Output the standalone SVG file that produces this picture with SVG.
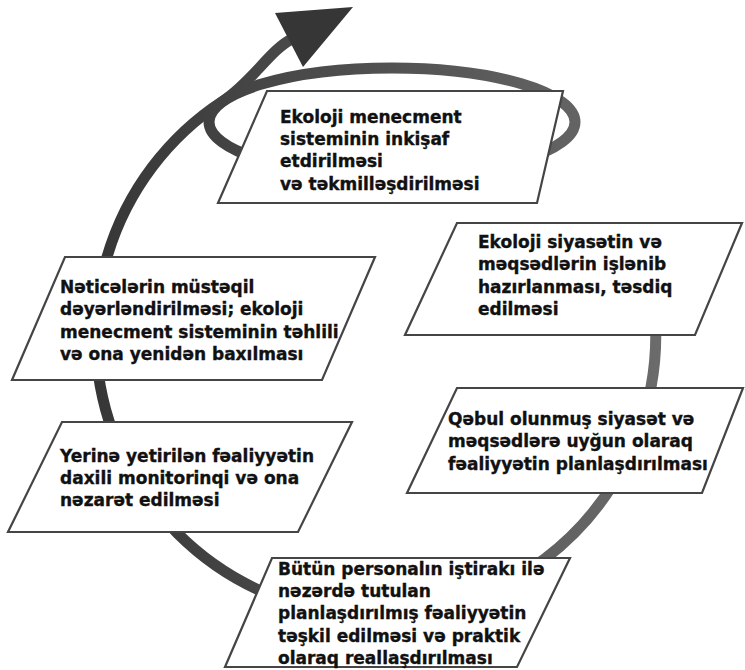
<svg xmlns="http://www.w3.org/2000/svg" width="745" height="670" viewBox="0 0 745 670">
<defs>
<linearGradient id="ringGrad" gradientUnits="userSpaceOnUse" x1="90" y1="0" x2="670" y2="0">
<stop offset="0" stop-color="#363636"/>
<stop offset="1" stop-color="#6c6c6c"/>
</linearGradient>
<style>
.ring{fill:none;stroke:url(#ringGrad);stroke-width:11;stroke-linecap:butt}
.box{fill:#ffffff;stroke:#454545;stroke-width:2.2;stroke-linejoin:miter}
.lbl{font-family:"DejaVu Sans","Liberation Sans",sans-serif;font-weight:bold;font-size:17px;fill:#111111;stroke:#111111;stroke-width:0.35}
</style>
</defs>
<rect width="745" height="670" fill="#ffffff"/>
<g id="connectors">
<path class="ring" d="M 652 290 A 280 280 0 1 1 223 101 C 252 82 271 49 292 39"/>
<polygon points="275,13 353,7 303,67" fill="#363636"/>
<ellipse class="ring" cx="392" cy="122" rx="183" ry="54" stroke-width="10"/>
</g>
<g id="node1">
<polygon class="box" points="267,91 563,91 537,203 218,203"/>
<text class="lbl"><tspan x="280" y="123">Ekoloji menecment</tspan><tspan x="280" y="145">sisteminin inkişaf</tspan><tspan x="280" y="167">etdirilməsi</tspan><tspan x="280" y="190">və təkmilləşdirilməsi</tspan></text>
</g>
<g id="node2">
<polygon class="box" points="457,223 742,223 695,335 405,335"/>
<text class="lbl"><tspan x="478" y="248">Ekoloji siyasətin və</tspan><tspan x="478" y="270">məqsədlərin işlənib</tspan><tspan x="478" y="293">hazırlanması, təsdiq</tspan><tspan x="478" y="315">edilməsi</tspan></text>
</g>
<g id="node3">
<polygon class="box" points="457,388 743,388 702,493 407,493"/>
<text class="lbl"><tspan x="448" y="425">Qəbul olunmuş siyasət və</tspan><tspan x="448" y="447">məqsədlərə uyğun olaraq</tspan><tspan x="448" y="470">fəaliyyətin planlaşdırılması</tspan></text>
</g>
<g id="node4">
<polygon class="box" points="272,558 570,558 517,667 225,667"/>
<text class="lbl"><tspan x="278" y="575">Bütün personalın iştirakı ilə</tspan><tspan x="278" y="597">nəzərdə tutulan</tspan><tspan x="278" y="619">planlaşdırılmış fəaliyyətin</tspan><tspan x="278" y="642">təşkil edilməsi və praktik</tspan><tspan x="278" y="664">olaraq reallaşdırılması</tspan></text>
</g>
<g id="node5">
<polygon class="box" points="62,422 352,422 298,532 8,532"/>
<text class="lbl"><tspan x="60" y="462">Yerinə yetirilən fəaliyyətin</tspan><tspan x="60" y="484">daxili monitorinqi və ona</tspan><tspan x="60" y="506">nəzarət edilməsi</tspan></text>
</g>
<g id="node6">
<polygon class="box" points="65,257 375,257 322,380 12,380"/>
<text class="lbl"><tspan x="60" y="293">Nəticələrin müstəqil</tspan><tspan x="60" y="315">dəyərləndirilməsi; ekoloji</tspan><tspan x="60" y="338">menecment sisteminin təhlili</tspan><tspan x="60" y="360">və ona yenidən baxılması</tspan></text>
</g>
</svg>
